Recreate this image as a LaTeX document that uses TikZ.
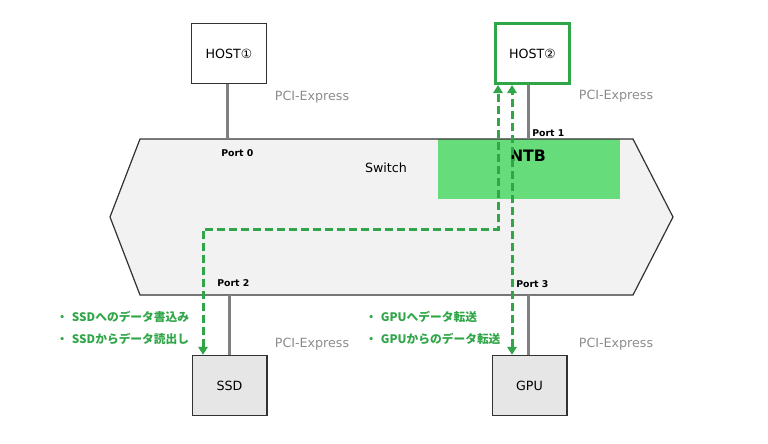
\documentclass[tikz,border=0pt]{standalone}
\usepackage{fontspec}
\setmainfont{DejaVu Sans}
\newfontfamily\cjk{Noto Sans CJK JP}
\usetikzlibrary{arrows.meta}
\definecolor{flowgreen}{RGB}{48,166,72}
\definecolor{ntbgreen}{RGB}{102,221,122}
\definecolor{linegray}{RGB}{128,128,128}
\definecolor{textgray}{RGB}{140,140,140}
\definecolor{swfill}{RGB}{242,242,242}
\definecolor{devfill}{RGB}{230,230,230}
\definecolor{edge}{RGB}{50,50,50}
\tikzset{
  hostbox/.style={draw=edge, line width=1pt, fill=white, minimum width=56pt, minimum height=45pt, inner sep=0pt, font=\fontsize{9.5}{11}\selectfont},
  devbox/.style={hostbox, fill=devfill},
  pcie/.style={draw=linegray, line width=2.25pt},
  flow/.style={draw=flowgreen, line width=2.25pt, dash pattern=on 6pt off 3pt, line join=miter, {Triangle[length=6pt,width=7pt]}-{Triangle[length=6pt,width=7pt]}},
  portlbl/.style={font=\fontsize{7}{8}\selectfont\bfseries, anchor=west, inner sep=0pt},
  pcilbl/.style={font=\fontsize{9.5}{11}\selectfont, text=textgray, inner sep=0pt},
  usecase/.style={font=\cjk\bfseries\fontsize{8.8}{10}\selectfont, text=flowgreen, anchor=west, inner sep=0pt}
}
\begin{document}
\begin{tikzpicture}[x=0.75pt,y=-0.75pt]
\useasboundingbox (0,0) rectangle (768,443);
% switch body
\coordinate (swL) at (110,217);
\coordinate (swTL) at (140,139);
\coordinate (swTR) at (633,139);
\coordinate (swR) at (673,217);
\coordinate (swBR) at (633,295);
\coordinate (swBL) at (140,295);
\fill[swfill] (swL) -- (swTL) -- (swTR) -- (swR) -- (swBR) -- (swBL) -- cycle;
\node[fill=ntbgreen, minimum width=136pt, minimum height=45pt, inner sep=0pt, anchor=north west] (ntb) at (438,139) {};
\node[font=\fontsize{11.8}{13}\selectfont\bfseries] (ntblbl) at (528,156) {NTB};
\draw[edge, line width=0.9pt] (swL) -- (swTL) -- (swTR) -- (swR) -- (swBR) -- (swBL) -- cycle;
\node[font=\fontsize{9.5}{11}\selectfont] (swlbl) at (386,168) {Switch};
% ports
\coordinate (p0) at (227,139);
\coordinate (p1) at (528,139);
\coordinate (p2) at (229,295);
\coordinate (p3) at (528,295);
\node[portlbl] (port0) at (221,153) {Port 0};
\node[portlbl] (port1) at (532,133) {Port 1};
\node[portlbl] (port2) at (217,283) {Port 2};
\node[portlbl] (port3) at (516,284) {Port 3};
% devices
\node[hostbox] (host1) at (229,53.5) {HOST①};
\node[hostbox, draw=flowgreen, line width=2.25pt] (host2) at (532.5,53.5) {HOST②};
\node[devbox] (ssd) at (229.5,385.5) {SSD};
\node[devbox] (gpu) at (529.5,385.5) {GPU};
% PCIe links
\draw[pcie] (p0 |- host1.south) -- (p0);
\draw[pcie] (p1 |- host2.south) -- (p1);
\draw[pcie] (p2) -- (p2 |- ssd.north);
\draw[pcie] (p3) -- (p3 |- gpu.north);
\node[pcilbl] (pci1) at (312,97) {PCI-Express};
\node[pcilbl] (pci2) at (616,96) {PCI-Express};
\node[pcilbl] (pci3) at (312,344) {PCI-Express};
\node[pcilbl] (pci4) at (616,344) {PCI-Express};
% data flows
\coordinate (turnA) at (498,229);
\coordinate (turnB) at (203,229);
\coordinate (lineC) at (512,229);
\draw[flow] (turnB |- ssd.north) -- (turnB) -- (turnA) -- (turnA |- host2.south);
\draw[flow] (lineC |- gpu.north) -- (lineC |- host2.south);
% use cases
\node[usecase] (uc1) at (56,317) {・\hspace{3pt}SSDへのデータ書込み};
\node[usecase] (uc2) at (56,339) {・\hspace{3pt}SSDからデータ読出し};
\node[usecase] (uc3) at (365,317) {・\hspace{3pt}GPUへデータ転送};
\node[usecase] (uc4) at (365,339) {・\hspace{3pt}GPUからのデータ転送};
\end{tikzpicture}
\end{document}
